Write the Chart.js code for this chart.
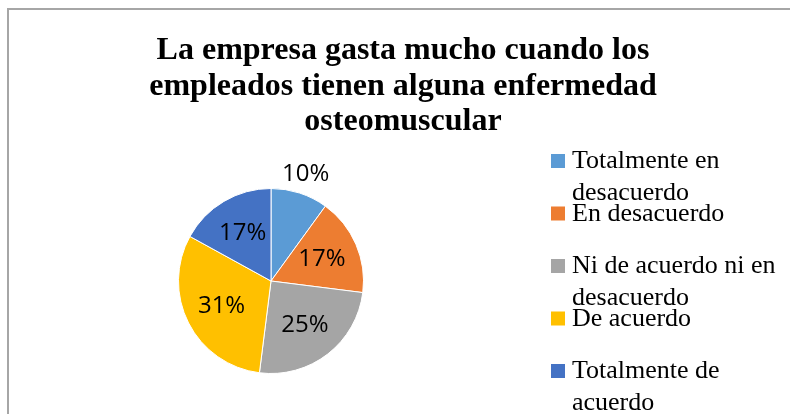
<!DOCTYPE html>
<html lang="es">
<head>
    <meta charset="UTF-8">
    <title>Gasto por enfermedad osteomuscular</title>
    <script src="https://cdn.jsdelivr.net/npm/chart.js"></script>
    <style>
        html, body { margin: 0; padding: 0; background: #fff; overflow: hidden; }
        #frame { position: absolute; left: 7px; top: 8px; width: 900px; height: 500px;
                 border-left: 2px solid #a6a6a6; border-top: 2px solid #a6a6a6; }
        #wrap { position: absolute; left: 0; top: 0; width: 790px; height: 414px; }
    </style>
</head>
<body>
    <div id="frame"></div>
    <div id="wrap"><canvas id="pieChart" width="790" height="414"></canvas></div>

    <script>
        const titleLines = [
            "La empresa gasta mucho cuando los",
            "empleados tienen alguna enfermedad",
            "osteomuscular"
        ];
        const categories = [
            "Totalmente en desacuerdo",
            "En desacuerdo",
            "Ni de acuerdo ni en desacuerdo",
            "De acuerdo",
            "Totalmente de acuerdo"
        ];
        const percentages = [10, 17, 25, 31, 17];
        const sliceColors = ["#5B9BD5", "#ED7D31", "#A5A5A5", "#FFC000", "#4472C4"];

        // title and legend are drawn by hand so the pie can sit off-centre like the original
        const textPlugin = {
            id: "textPlugin",
            afterDraw(chart) {
                const ctx = chart.ctx;
                ctx.save();
                ctx.fillStyle = "#000";
                ctx.textAlign = "center";
                ctx.textBaseline = "alphabetic";
                ctx.font = "bold 32px 'Liberation Serif', 'Times New Roman', serif";
                titleLines.forEach((line, i) => ctx.fillText(line, 403, 59 + i * 35.5));

                ctx.textAlign = "left";
                ctx.font = "26px 'Liberation Serif', 'Times New Roman', serif";
                chart.data.labels.forEach((label, i) => {
                    const base = 168 + i * 52.5;
                    ctx.fillStyle = chart.data.datasets[0].backgroundColor[i];
                    ctx.fillRect(551, base - 14, 14, 14);
                    ctx.fillStyle = "#000";
                    // word wrap
                    const lines = [];
                    let cur = "";
                    label.split(" ").forEach(w => {
                        const test = cur ? cur + " " + w : w;
                        if (cur && ctx.measureText(test).width > 210) { lines.push(cur); cur = w; }
                        else cur = test;
                    });
                    lines.push(cur);
                    lines.forEach((l, j) => ctx.fillText(l, 572, base + j * 32));
                });
                ctx.restore();
            }
        };

        const labelPlugin = {
            id: "labelPlugin",
            afterDatasetsDraw(chart) {
                const ctx = chart.ctx;
                const meta = chart.getDatasetMeta(0);
                ctx.save();
                ctx.font = "24px 'Open Sans', 'Liberation Sans', sans-serif";
                ctx.fillStyle = "#000";
                ctx.textAlign = "center";
                ctx.textBaseline = "middle";
                meta.data.forEach((arc, i) => {
                    const p = arc.getProps(["x", "y", "startAngle", "endAngle", "outerRadius"], true);
                    const mid = (p.startAngle + p.endAngle) / 2;
                    const v = chart.data.datasets[0].data[i];
                    const r = v < 12 ? p.outerRadius + 20 : p.outerRadius * 0.6;
                    ctx.fillText(v + "%", p.x + Math.cos(mid) * r, p.y + Math.sin(mid) * r);
                });
                ctx.restore();
            }
        };

        new Chart(document.getElementById("pieChart").getContext("2d"), {
            type: "pie",
            data: {
                labels: categories,
                datasets: [{
                    data: percentages,
                    backgroundColor: sliceColors,
                    borderColor: "#ffffff",
                    borderWidth: 1
                }]
            },
            options: {
                responsive: false,
                animation: false,
                layout: { padding: { left: 178, right: 426, top: 188, bottom: 40 } },
                plugins: {
                    legend: { display: false },
                    title: { display: false },
                    tooltip: { enabled: false }
                }
            },
            plugins: [labelPlugin, textPlugin]
        });
    </script>
</body>
</html>
